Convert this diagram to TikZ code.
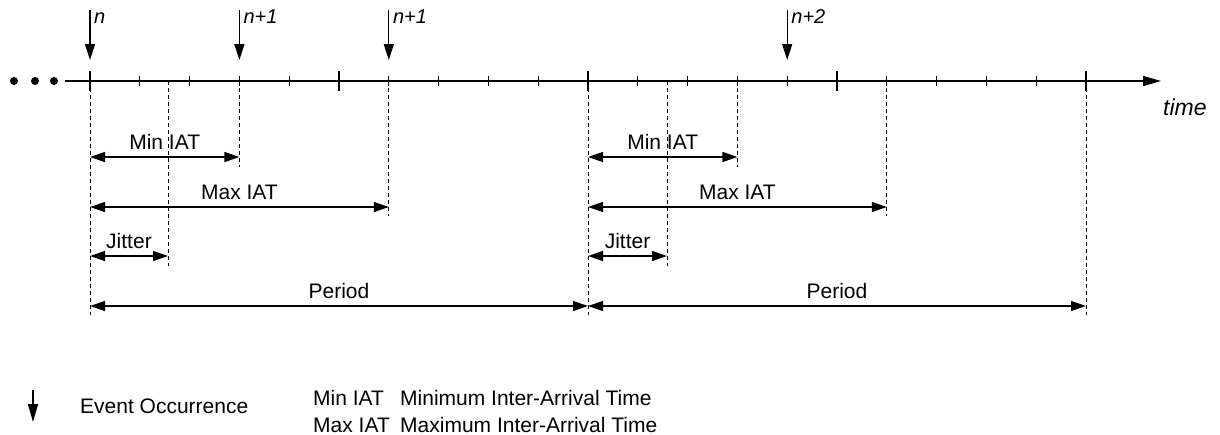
\documentclass[tikz,border=0pt]{standalone}
\usepackage{fontspec}
\setmainfont{Liberation Sans}
\usetikzlibrary{arrows.meta}

\begin{document}
\begin{tikzpicture}[x=1pt,y=-1pt,
  lbl/.style={font=\fontsize{21}{24}\selectfont,inner sep=0pt},
  ev/.style={-{Triangle[length=16pt,width=10pt]},line width=1.3pt},
  dim/.style={{Triangle[length=15pt,width=10pt]}-{Triangle[length=15pt,width=10pt]},line width=1.3pt},
  gd/.style={dash pattern=on 4pt off 3pt,line width=0.9pt},
  tk/.style={line width=1.3pt}]
  \useasboundingbox (0,0) rectangle (1220,434);
  % time axis
  \foreach \x in {14,35,54} \fill (\x,81) circle (4pt);
  \coordinate (ax0) at (65,81); \coordinate (ax1) at (1161,81);
  \draw[-{Triangle[length=18pt,width=10pt]},line width=1.3pt] (ax0) -- (ax1);
  \node[lbl,font=\fontsize{23}{26}\selectfont\itshape,anchor=base west] (time) at (1163,115) {time};
  \foreach \i [evaluate=\i as \h using {mod(\i,5)==0 ? 10 : 5}] in {0,...,20} {
    \coordinate (t\i) at ({90+49.8*\i},81);
    \draw[tk] ([yshift=\h pt]t\i) -- ([yshift=-\h pt]t\i);
  }
  \coordinate (j1) at (168,81); \coordinate (j2) at (667,81);
  % events
  \foreach \i/\lab in {0/n,3/n+1,6/n+1,14/n+2} {
    \coordinate (s\i) at ([yshift=71pt]t\i);
    \coordinate (h\i) at ([yshift=21pt]t\i);
    \draw[ev] (s\i) -- (h\i);
    \node[lbl,font=\fontsize{20}{24}\selectfont\itshape,anchor=base west] (n\i) at ([xshift=4pt,yshift=-13pt]s\i) {\lab};
  }
  % rows of the measures and ends of the guides
  \coordinate (rmin) at (0,157); \coordinate (bmin) at (0,167);
  \coordinate (rmax) at (0,207); \coordinate (bmax) at (0,216);
  \coordinate (rjit) at (0,256); \coordinate (bjit) at (0,266);
  \coordinate (rper) at (0,306); \coordinate (bper) at (0,315);
  \foreach \a/\b/\c/\d in {t0/j1/t3/t6,t10/j2/t13/t16} {
    \draw[gd] (\a) -- (\a |- bper);
    \draw[gd] (\b) -- (\b |- bjit);
    \draw[gd] (\c) -- (\c |- bmin);
    \draw[gd] (\d) -- (\d |- bmax);
    \draw[dim] (\a |- rmin) -- node[lbl,midway,anchor=base,yshift=8pt] {Min IAT} (\c |- rmin);
    \draw[dim] (\a |- rmax) -- node[lbl,midway,anchor=base,yshift=8pt] {Max IAT} (\d |- rmax);
    \draw[dim] (\a |- rjit) -- node[lbl,midway,anchor=base,yshift=8pt] {Jitter} (\b |- rjit);
  }
  \draw[gd] (t20) -- (t20 |- bper);
  \draw[dim] (t0 |- rper) -- node[lbl,midway,anchor=base,yshift=8pt] {Period} (t10 |- rper);
  \draw[dim] (t10 |- rper) -- node[lbl,midway,anchor=base,yshift=8pt] {Period} (t20 |- rper);
  % legend
  \coordinate (lg0) at (33,390); \coordinate (lg1) at (33,422);
  \draw[-{Triangle[length=18pt,width=10pt]},line width=1.3pt] (lg0) -- (lg1);
  \node[lbl,anchor=base west] (evo) at (80,413) {Event Occurrence};
  \node[lbl,anchor=base west] (mn) at (313,405) {Min IAT};
  \node[lbl,anchor=base west] (mx) at (313,432) {Max IAT};
  \node[lbl,anchor=base west] (mnt) at (400,405) {Minimum Inter-Arrival Time};
  \node[lbl,anchor=base west] (mxt) at (400,432) {Maximum Inter-Arrival Time};
\end{tikzpicture}
\end{document}
